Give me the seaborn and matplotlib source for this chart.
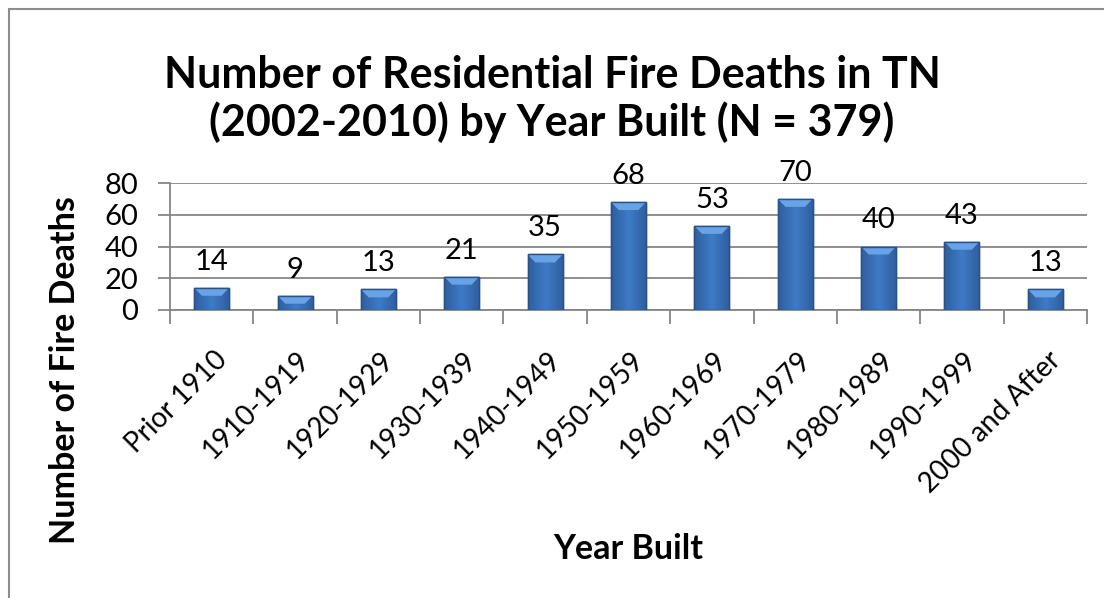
import matplotlib
matplotlib.use("Agg")
import matplotlib.pyplot as plt
import matplotlib.transforms as mtransforms
from matplotlib.lines import Line2D
from matplotlib.patches import Polygon
from matplotlib.colors import LinearSegmentedColormap
import seaborn as sns
import pandas as pd
import numpy as np

categories = ["Prior 1910", "1910-1919", "1920-1929", "1930-1939", "1940-1949",
              "1950-1959", "1960-1969", "1970-1979", "1980-1989", "1990-1999",
              "2000 and After"]
deaths = [14, 9, 13, 21, 35, 68, 53, 70, 40, 43, 13]
y_ticks = [0, 20, 40, 60, 80]

title = "Number of Residential Fire Deaths in TN\n(2002-2010) by Year Built (N = 379)"
x_title = "Year Built"
y_title = "Number of Fire Deaths"

sns.set_theme(style="white")
plt.rcParams["font.family"] = ["Lato", "DejaVu Sans"]
plt.rcParams["text.color"] = "black"
plt.rcParams["axes.labelcolor"] = "black"
plt.rcParams["xtick.color"] = "black"
plt.rcParams["ytick.color"] = "black"

df = pd.DataFrame({"cat": categories, "deaths": deaths})

W, H = 1104, 598
fig = plt.figure(figsize=(W / 100, H / 100), dpi=100)
ax = fig.add_axes([170 / W, 1 - 310 / H, (1087 - 170) / W, (310 - 183) / H])

grid_c = "#868686"
sns.barplot(data=df, x="cat", y="deaths", ax=ax, color="#3B72B9",
            saturation=1, width=0.42, edgecolor="#2F5C93", linewidth=1.0, zorder=3)

ax.set_ylim(0, 80)
ax.set_xlim(-0.5, len(categories) - 0.5)

# bar shading: horizontal gradient clipped to each bar + top bevel highlight
cmap = LinearSegmentedColormap.from_list("bar", ["#2E5E9E", "#3F7BC6", "#2E5E9E"])
grad = np.linspace(0, 1, 64).reshape(1, -1)
bevel = 80 * 8 / 127  # ~8 px in data units
for p in list(ax.patches):
    x0, w, h = p.get_x(), p.get_width(), p.get_height()
    im = ax.imshow(grad, extent=(x0, x0 + w, 0, h), cmap=cmap, aspect="auto",
                   zorder=3.5, interpolation="bicubic")
    im.set_clip_path(p)
    bv = min(bevel, h * 0.6)
    ax.add_patch(Polygon([(x0, h), (x0 + w, h), (x0 + w * 0.78, h - bv), (x0 + w * 0.22, h - bv)],
                         closed=True, facecolor="#67A3E6", edgecolor="none", zorder=3.6))
    ax.add_patch(plt.Rectangle((x0, 0), w, h, fill=False, edgecolor="#2B5283", linewidth=1.0, zorder=3.7))
ax.set_xlim(-0.5, len(categories) - 0.5)
ax.set_ylim(0, 80)

ax.set_yticks(y_ticks)
ax.set_yticklabels([str(v) for v in y_ticks], fontsize=21)
ax.yaxis.grid(True, color=grid_c, linewidth=1.3, zorder=0)
ax.set_axisbelow(True)

for s in ["top", "right"]:
    ax.spines[s].set_visible(False)
for s in ["left", "bottom"]:
    ax.spines[s].set_color(grid_c)
    ax.spines[s].set_linewidth(1.3)

ax.tick_params(axis="y", length=9, width=1.3, color=grid_c, pad=14, direction="out", left=True)
ax.set_xticks(np.arange(-0.5, len(categories)), minor=True)
ax.tick_params(axis="x", which="minor", length=10, width=1.3, color=grid_c, direction="out", bottom=True)
ax.tick_params(axis="x", which="major", length=0, pad=33)
ax.set_xticks(range(len(categories)))
ax.set_xticklabels(categories, fontsize=20, rotation=45, ha="right", rotation_mode="anchor", va="center")
offset = mtransforms.ScaledTranslation(11 / 100, 0, fig.dpi_scale_trans)
for lbl in ax.get_xticklabels():
    lbl.set_transform(lbl.get_transform() + offset)

for p, v in zip(ax.patches, deaths):
    ax.annotate(str(v), (p.get_x() + p.get_width() / 2, p.get_height()),
                xytext=(0, 13), textcoords="offset points", ha="center", va="baseline",
                fontsize=21, color="black", zorder=5)

ax.set_xlabel(x_title, fontsize=24.5, fontweight="bold")
ax.set_ylabel(y_title, fontsize=24.5, fontweight="bold")
ax.xaxis.set_label_coords(628 / W, 1 - 549 / H, transform=fig.transFigure)
ax.yaxis.set_label_coords(65 / W, 1 - 370 / H, transform=fig.transFigure)
ax.xaxis.label.set_va("center")
ax.yaxis.label.set_va("center")

fig.text(552 / W, 1 - 99 / H, title, ha="center", va="center", fontsize=31,
         fontweight="bold", linespacing=1.2)

fig.add_artist(Line2D([8.5 / W, 8.5 / W], [0, 1 - 8.5 / H], transform=fig.transFigure,
                      color="#8C8C8C", linewidth=1.5))
fig.add_artist(Line2D([8.5 / W, 1], [1 - 8.5 / H, 1 - 8.5 / H], transform=fig.transFigure,
                      color="#8C8C8C", linewidth=1.5))

fig.savefig("out.png", dpi=100)
